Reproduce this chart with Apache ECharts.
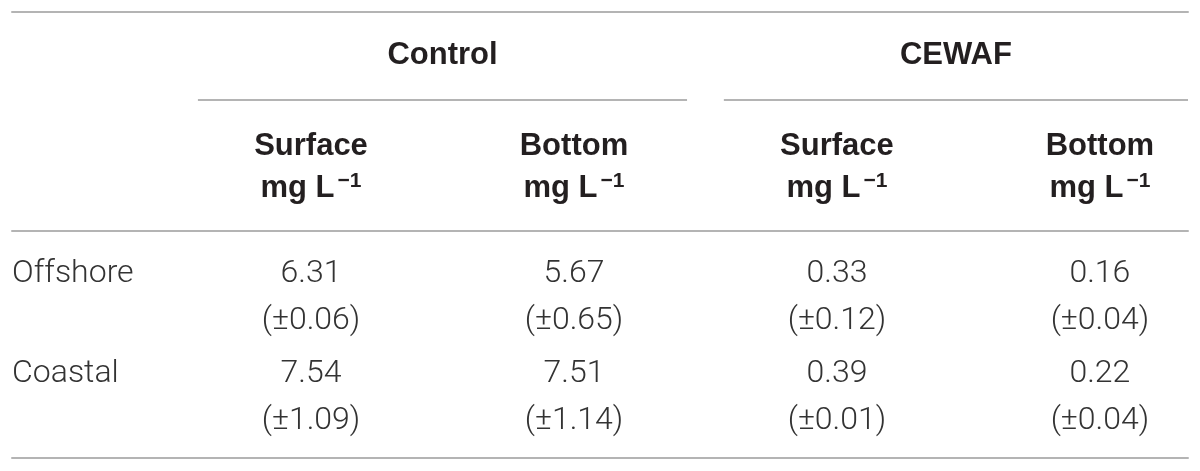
<!DOCTYPE html>
<html>
<head>
<meta charset="utf-8">
<script src="https://cdn.jsdelivr.net/npm/echarts@6/dist/echarts.min.js"></script>
<style>
  html, body { margin: 0; padding: 0; background: #ffffff; }
  #chart { width: 1200px; height: 471px; }
</style>
</head>
<body>
<div id="chart"></div>
<script>
// ---- table content ----
const groups = ['Control', 'CEWAF'];
const groupSpans = [[1, 2], [3, 4]];          // data columns covered by each group
const subHeaders = ['Surface', 'Bottom', 'Surface', 'Bottom'];
const unitText = 'mg L';
const unitExp = '\u22121';
const sites = ['Offshore', 'Coastal'];
const meanValues = [
  [6.31, 5.67, 0.33, 0.16],
  [7.54, 7.51, 0.39, 0.22]
];
const sdValues = [
  [0.06, 0.65, 0.12, 0.04],
  [1.09, 1.14, 0.01, 0.04]
];

// ---- styling ----
const RULE = '#b4b4b4';
const HEAD_COLOR = '#231f20';
const BODY_COLOR = '#333333';
const HEAD_FONT = 'bold 31px "Liberation Sans", Arial, sans-serif';
const BODY_FONT = '300 32px Roboto, "Liberation Sans", sans-serif';
const BODY_LINE = 47;

const X_MIN = -0.137, X_MAX = 4.335;

function xAxisDef(gi, pos, showLine) {
  return {
    gridIndex: gi, type: 'value', min: X_MIN, max: X_MAX, position: pos,
    axisLine: { show: showLine, onZero: false, lineStyle: { color: RULE, width: 2 } },
    axisTick: { show: false }, axisLabel: { show: false }, splitLine: { show: false }
  };
}
function yAxisDef(gi, min, max) {
  return {
    gridIndex: gi, type: 'value', inverse: true, min: min, max: max, show: false,
    splitLine: { show: false }
  };
}

// data built from arrays
const groupData = groups.map((g, i) => [groupSpans[i][0], groupSpans[i][1], g]);
const subData = subHeaders.map((s, i) => [i + 1, 0, s]);
const cellData = [];
meanValues.forEach((row, r) => row.forEach((v, c) => cellData.push([c + 1, r, v, sdValues[r][c]])));
const siteData = sites.map((s, r) => [0, r, s]);

const option = {
  backgroundColor: '#ffffff',
  animation: false,
  grid: [
    { left: 12, right: 12, top: 12, height: 88 },
    { left: 12, right: 12, top: 100, height: 131 },
    { left: 12, right: 12, top: 231, height: 227 }
  ],
  xAxis: [
    xAxisDef(0, 'top', true),
    xAxisDef(1, 'bottom', true),
    xAxisDef(2, 'bottom', true)
  ],
  yAxis: [
    yAxisDef(0, -0.5, 0.5),
    yAxisDef(1, -0.5, 0.5),
    yAxisDef(2, -0.665, 1.605)
  ],
  series: [
    {
      type: 'custom', xAxisIndex: 0, yAxisIndex: 0, clip: false,
      data: groupData,
      renderItem: function (params, api) {
        const cs = params.coordSys;
        const x0 = Math.max(api.coord([api.value(0) - 0.43, 0])[0], cs.x);
        const x1 = Math.min(api.coord([api.value(1) + 0.43, 0])[0], cs.x + cs.width);
        const cy = api.coord([0, 0])[1];
        return {
          type: 'group',
          children: [
            { type: 'text', style: { text: groupData[params.dataIndex][2], x: (x0 + x1) / 2, y: cy - 1,
                align: 'center', verticalAlign: 'middle', font: HEAD_FONT, fill: HEAD_COLOR } },
            { type: 'line', shape: { x1: x0, y1: cs.y + cs.height, x2: x1, y2: cs.y + cs.height },
              style: { stroke: RULE, lineWidth: 2 } }
          ]
        };
      }
    },
    {
      type: 'custom', xAxisIndex: 1, yAxisIndex: 1, clip: false,
      data: subData,
      renderItem: function (params, api) {
        const p = api.coord([api.value(0), api.value(1)]);
        return {
          type: 'text',
          style: {
            text: '{h|' + subData[params.dataIndex][2] + '}\n{h|' + unitText + '}{s|' + unitExp + '}',
            x: p[0], y: p[1] + 2, align: 'center', verticalAlign: 'middle',
            rich: {
              h: { font: HEAD_FONT, fill: HEAD_COLOR, lineHeight: 42 },
              s: { font: 'bold 21px "Liberation Sans", Arial, sans-serif', fill: HEAD_COLOR,
                   lineHeight: 21, verticalAlign: 'middle', padding: [0, 0, 15, 3] }
            }
          }
        };
      }
    },
    {
      type: 'custom', xAxisIndex: 2, yAxisIndex: 2, clip: false,
      data: cellData,
      renderItem: function (params, api) {
        const p = api.coord([api.value(0), api.value(1)]);
        const d = cellData[params.dataIndex];
        return {
          type: 'text',
          style: {
            text: d[2].toFixed(2) + '\n(\u00b1' + d[3].toFixed(2) + ')',
            x: p[0], y: p[1], align: 'center', verticalAlign: 'middle',
            font: BODY_FONT, fill: BODY_COLOR, lineHeight: BODY_LINE
          }
        };
      }
    },
    {
      type: 'custom', xAxisIndex: 2, yAxisIndex: 2, clip: false,
      data: siteData,
      renderItem: function (params, api) {
        const cs = params.coordSys;
        const p = api.coord([api.value(0), api.value(1)]);
        return {
          type: 'text',
          style: {
            text: siteData[params.dataIndex][2],
            x: cs.x, y: p[1] - BODY_LINE / 2, align: 'left', verticalAlign: 'middle',
            font: BODY_FONT, fill: BODY_COLOR
          }
        };
      }
    }
  ]
};

const chart = echarts.init(document.getElementById('chart'), null, { renderer: 'canvas' });
chart.setOption(option);
</script>
</body>
</html>
